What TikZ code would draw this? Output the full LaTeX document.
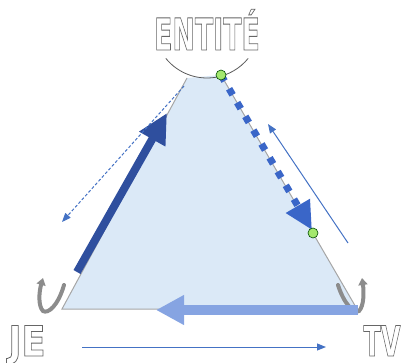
\documentclass[tikz,border=0pt]{standalone}
\usepackage{fontspec}
\setmainfont{DejaVu Sans}
\usetikzlibrary{arrows.meta}
\definecolor{trifill}{HTML}{DBE9F7}
\definecolor{edgegray}{HTML}{A6A6A6}
\definecolor{darkblue}{HTML}{2F4F9E}
\definecolor{midblue}{HTML}{3A66C8}
\definecolor{thinblue}{HTML}{4472C4}
\definecolor{lightblue}{HTML}{86A4E2}
\definecolor{dotgreen}{HTML}{A4E86E}
\newcommand{\outlinetext}[1]{\special{pdf:code 1 Tr 0.9 w}#1\special{pdf:code 0 Tr 0.4 w}}
\tikzset{
  lbl/.style={text=black!60, font=\fontsize{44}{44}\selectfont\bfseries, inner sep=0pt, anchor=base},
  thinarrow/.style={thinblue, line width=1pt, -{Triangle[length=9pt,width=7pt]}},
  greendot/.style={circle, draw=black!50!green!60!black, fill=dotgreen, line width=0.6pt, minimum size=10pt, inner sep=0pt},
  cornerarrow/.style={black!45, line width=4pt, line cap=round, -{Triangle[length=7pt,width=9pt]}},
}
\begin{document}
\begin{tikzpicture}[x=1pt,y=-1pt]
\useasboundingbox (0,0) rectangle (404,362);
% triangle vertices
\coordinate (tl) at (187,78);
\coordinate (tr) at (221,75);
\coordinate (br) at (357,309);
\coordinate (bl) at (62,309);
\coordinate (arcc) at (207,25);
% triangle
\fill[trifill] (tl) -- (tr) -- (br) -- (bl) -- cycle;
\draw[edgegray, line width=1pt] (tl) -- (bl) -- (br) -- (tr);
% arc
\draw[black!65, line width=0.8pt] (arcc) ++(219:53pt) arc[start angle=219, end angle=321, radius=53pt];
% labels
\node[lbl] (entite) at (207,50) {\scalebox{0.61}[1]{\outlinetext{ENTITÉ}}};
\node[lbl] (je) at (27,356) {\scalebox{0.8}[0.95]{\outlinetext{JE}}};
\node[lbl] (tv) at (382,356) {\scalebox{0.58}[0.95]{\outlinetext{TV}}};
% coordinates for arrows
\coordinate (la1) at (77,272);
\coordinate (la2) at (167,113);
\coordinate (da1) at (184,86);
\coordinate (da2) at (62,222);
\coordinate (ra1) at (348,243);
\coordinate (ra2) at (268,124);
\coordinate (ba1) at (358,310);
\coordinate (ba2) at (156,310);
\coordinate (bt1) at (82,347);
\coordinate (bt2) at (326,347);
\coordinate (gd) at (313,233);
% corner arrows
\coordinate (je1) at (64,285);
\coordinate (je2) at (43,278);
\coordinate (tv1) at (338,285);
\coordinate (tv2) at (362,278);
\draw[cornerarrow] (je1) .. controls (58,306) and (48,314) .. (43,311) .. controls (38,306) and (39,292) .. (je2);
\draw[cornerarrow] (tv1) .. controls (344,304) and (354,314) .. (359,311) .. controls (364,306) and (364,292) .. (tv2);
% left thick arrow
\draw[darkblue, line width=8pt, -{Triangle[length=30pt,width=28pt]}] (la1) -- (la2);
% dashed thin arrow
\draw[thinarrow, dash pattern=on 3pt off 2pt] (da1) -- (da2);
% right dotted arrow
\draw[midblue, line width=7pt, dash pattern=on 7pt off 9pt, -{Triangle[length=28pt,width=26pt]}] (tr) -- (312,230);
% right thin arrow
\draw[thinarrow] (ra1) -- (ra2);
% bottom thick arrow
\draw[lightblue, line width=10pt, -{Triangle[length=28pt,width=28pt]}] (ba1) -- (ba2);
% bottom thin arrow
\draw[thinarrow] (bt1) -- (bt2);
% green dots
\node[greendot] (g1) at (tr) {};
\node[greendot] (g2) at (gd) {};
\end{tikzpicture}
\end{document}
